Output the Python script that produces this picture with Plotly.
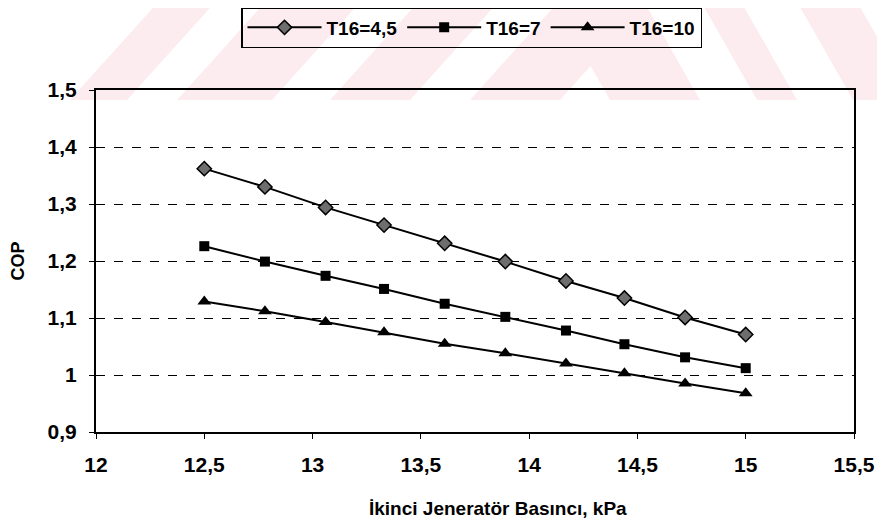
import plotly.graph_objects as go

pressure = [12.5, 12.78, 13.06, 13.33, 13.61, 13.89, 14.17, 14.44, 14.72, 15.0]
cop_t45 = [1.362, 1.330, 1.294, 1.263, 1.231, 1.199, 1.165, 1.135, 1.101, 1.071]
cop_t7 = [1.226, 1.199, 1.174, 1.151, 1.125, 1.102, 1.078, 1.054, 1.031, 1.012]
cop_t10 = [1.129, 1.112, 1.093, 1.075, 1.055, 1.038, 1.020, 1.003, 0.985, 0.968]

x_ticks = [12, 12.5, 13, 13.5, 14, 14.5, 15, 15.5]
x_labels = ["12", "12,5", "13", "13,5", "14", "14,5", "15", "15,5"]
y_ticks = [0.9, 1.0, 1.1, 1.2, 1.3, 1.4, 1.5]
y_labels = ["0,9", "1", "1,1", "1,2", "1,3", "1,4", "1,5"]

FONT = "Liberation Sans, Arial, sans-serif"
# the page body adds an 8px offset, so the figure is drawn 8px smaller
W, H = 877, 523
L, R, T, B = 88, 31, 82, 99
PW, PH = W - L - R, H - T - B


def px(x):
    return (x - 8 - L) / PW


def py(y):
    return (H - B - (y - 8)) / PH


fig = go.Figure()
fig.add_trace(go.Scatter(x=pressure, y=cop_t45, mode="lines+markers", name="<b>T16=4,5</b>",
                         line=dict(color="black", width=2),
                         marker=dict(symbol="diamond", size=11, color="#6e6e6e",
                                     line=dict(color="black", width=1.5))))
fig.add_trace(go.Scatter(x=pressure, y=cop_t7, mode="lines+markers", name="<b>T16=7</b>",
                         line=dict(color="black", width=2),
                         marker=dict(symbol="square", size=10, color="black")))
fig.add_trace(go.Scatter(x=pressure, y=cop_t10, mode="lines+markers", name="<b>T16=10</b>",
                         line=dict(color="black", width=2),
                         marker=dict(symbol="triangle-up", size=12, color="black")))

PINK = "#fdecef"
shapes = []


def quad(pts):
    path = "M " + " L ".join("%f %f" % (px(a), py(b)) for a, b in pts) + " Z"
    shapes.append(dict(type="path", path=path, xref="paper", yref="paper",
                       fillcolor=PINK, line=dict(width=0), layer="below"))


# faint watermark: pink diagonal bands in the top strip of the page
for x0, w in [(70, 57), (177, 95), (330, 80), (470, 90)]:
    quad([(x0, 100), (x0 + w, 100), (x0 + w + 90, 0), (x0 + 90, 0)])
for x0, w in [(610, 90), (757, 40), (853, 60)]:
    quad([(x0 - 57, 0), (x0 - 57 + w, 0), (x0 + w, 100), (x0, 100)])

fig.update_layout(
    width=W, height=H,
    margin=dict(l=L, r=R, t=T, b=B, autoexpand=False),
    paper_bgcolor="white", plot_bgcolor="rgba(0,0,0,0)",
    font=dict(family=FONT, color="black", size=21),
    showlegend=True,
    shapes=shapes,
    legend=dict(orientation="h", x=px(471.5), xanchor="center", y=py(27.5), yanchor="middle",
                bordercolor="black", borderwidth=1.5, bgcolor="rgba(0,0,0,0)",
                font=dict(size=19, family=FONT), itemwidth=74, tracegroupgap=0),
    xaxis=dict(range=[12, 15.5], tickvals=x_ticks, ticktext=["<b>%s</b>" % t for t in x_labels],
               showgrid=False, zeroline=False, showline=True, linecolor="black", linewidth=2,
               mirror=True, ticks="outside", ticklen=5, tickcolor="black", automargin=False,
               ticklabelstandoff=8, tickfont=dict(size=21)),
    yaxis=dict(range=[0.9, 1.5], tickvals=y_ticks, ticktext=["<b>%s</b>" % t for t in y_labels],
               showgrid=True, gridcolor="black", griddash="dash", gridwidth=1,
               zeroline=False, showline=True, linecolor="black", linewidth=2,
               mirror=True, ticks="outside", ticklen=5, tickcolor="black", automargin=False,
               ticklabelstandoff=8, tickfont=dict(size=21),
               title=dict(text="<b>COP</b>", font=dict(size=18), standoff=22)),
    annotations=[dict(text="<b>İkinci Jeneratör Basıncı, kPa</b>", xref="paper", yref="paper",
                      x=px(498), y=py(508), xanchor="center", yanchor="middle",
                      showarrow=False, font=dict(size=19))],
)

fig.write_html("out.html")
